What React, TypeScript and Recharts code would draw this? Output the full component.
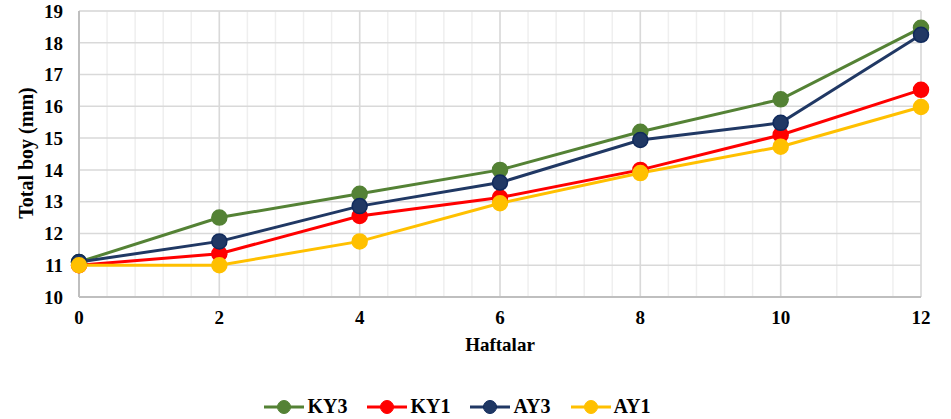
import React from "react";
import {
  CartesianGrid,
  Label,
  Legend,
  Line,
  LineChart,
  XAxis,
  YAxis,
} from "recharts";

const weeks = [0, 2, 4, 6, 8, 10, 12];
const ky3 = [11.1, 12.5, 13.25, 14.0, 15.2, 16.22, 18.47];
const ky1 = [11.0, 11.36, 12.55, 13.13, 14.0, 15.1, 16.52];
const ay3 = [11.1, 11.75, 12.86, 13.6, 14.94, 15.48, 18.25];
const ay1 = [11.0, 11.0, 11.75, 12.95, 13.9, 14.73, 15.98];

const xTicks = [0, 2, 4, 6, 8, 10, 12];
const yTicks = [10, 11, 12, 13, 14, 15, 16, 17, 18, 19];
// minor gridlines: 5 subdivisions per major step
const xMinor = Array.from({ length: 31 }, (_, i) => +(i * 0.4).toFixed(1));
const yMinor = Array.from({ length: 46 }, (_, i) => +(10 + i * 0.2).toFixed(1));

const series = [
  { key: "KY3", values: ky3, color: "#548235", border: "#548235" },
  { key: "KY1", values: ky1, color: "#ff0000", border: "#ff0000" },
  { key: "AY3", values: ay3, color: "#203864", border: "#102a5c" },
  { key: "AY1", values: ay1, color: "#ffc000", border: "#ffc000" },
];

const data = weeks.map((w, i) => {
  const row: Record<string, number> = { week: w };
  series.forEach((s) => (row[s.key] = s.values[i]));
  return row;
});

const font = "Liberation Serif, Times New Roman, DejaVu Serif, serif";
const textStyle = { fill: "#000", fontSize: 19, fontWeight: "bold", fontFamily: font };

function LegendContent() {
  return (
    <div
      style={{
        display: "flex",
        justifyContent: "center",
        gap: 20,
        paddingTop: 4,
        marginLeft: -6,
        fontFamily: font,
        fontWeight: "bold",
        fontSize: 20,
        color: "#000",
      }}
    >
      {series.map((s) => (
        <div key={s.key} style={{ display: "flex", alignItems: "center" }}>
          <svg width={40} height={16} style={{ marginRight: 3 }}>
            <line x1={0} y1={8} x2={40} y2={8} stroke={s.color} strokeWidth={3} />
            <circle cx={20} cy={8} r={6.5} fill={s.color} stroke={s.border} strokeWidth={1} />
          </svg>
          <span>{s.key}</span>
        </div>
      ))}
    </div>
  );
}

export default function App() {
  return (
    <div style={{ position: "absolute", left: 0, top: 0, background: "#fff" }}>
      <LineChart
        width={951}
        height={419}
        data={data}
        margin={{ top: 11, right: 30, left: 0, bottom: 0 }}
      >
        <XAxis xAxisId="minor" dataKey="week" type="number" domain={[0, 12]} ticks={xMinor} hide />
        <YAxis yAxisId="minor" type="number" domain={[10, 19]} ticks={yMinor} hide />
        <CartesianGrid xAxisId="minor" yAxisId="minor" stroke="#efefef" strokeWidth={1.5} />
        <CartesianGrid stroke="#d9d9d9" strokeWidth={1.5} />
        <XAxis
          dataKey="week"
          type="number"
          domain={[0, 12]}
          ticks={xTicks}
          height={94}
          tickSize={0}
          tickMargin={14}
          axisLine={{ stroke: "#bfbfbf", strokeWidth: 2 }}
          tick={textStyle}
        >
          <Label value="Haftalar" position="insideTop" offset={41} style={textStyle} />
        </XAxis>
        <YAxis
          type="number"
          domain={[10, 19]}
          ticks={yTicks}
          width={79}
          tickSize={0}
          tickMargin={16}
          axisLine={{ stroke: "#bfbfbf", strokeWidth: 2 }}
          tick={textStyle}
        >
          <Label
            content={({ viewBox }: any) => {
              const cx = viewBox.x + 26;
              const cy = viewBox.y + viewBox.height / 2 - 1;
              return (
                <text
                  x={cx}
                  y={cy}
                  transform={`rotate(-90, ${cx}, ${cy})`}
                  textAnchor="middle"
                  dominantBaseline="central"
                  style={{ ...textStyle, fontSize: 20 }}
                >
                  Total boy (mm)
                </text>
              );
            }}
          />
        </YAxis>
        <Legend verticalAlign="bottom" height={28} content={<LegendContent />} />
        {series.map((s) => (
          <Line
            key={s.key}
            dataKey={s.key}
            name={s.key}
            stroke={s.color}
            strokeWidth={3}
            dot={{ r: 7.5, fill: s.color, stroke: s.border, strokeWidth: 1.5 }}
            activeDot={false}
            isAnimationActive={false}
          />
        ))}
      </LineChart>
    </div>
  );
}
